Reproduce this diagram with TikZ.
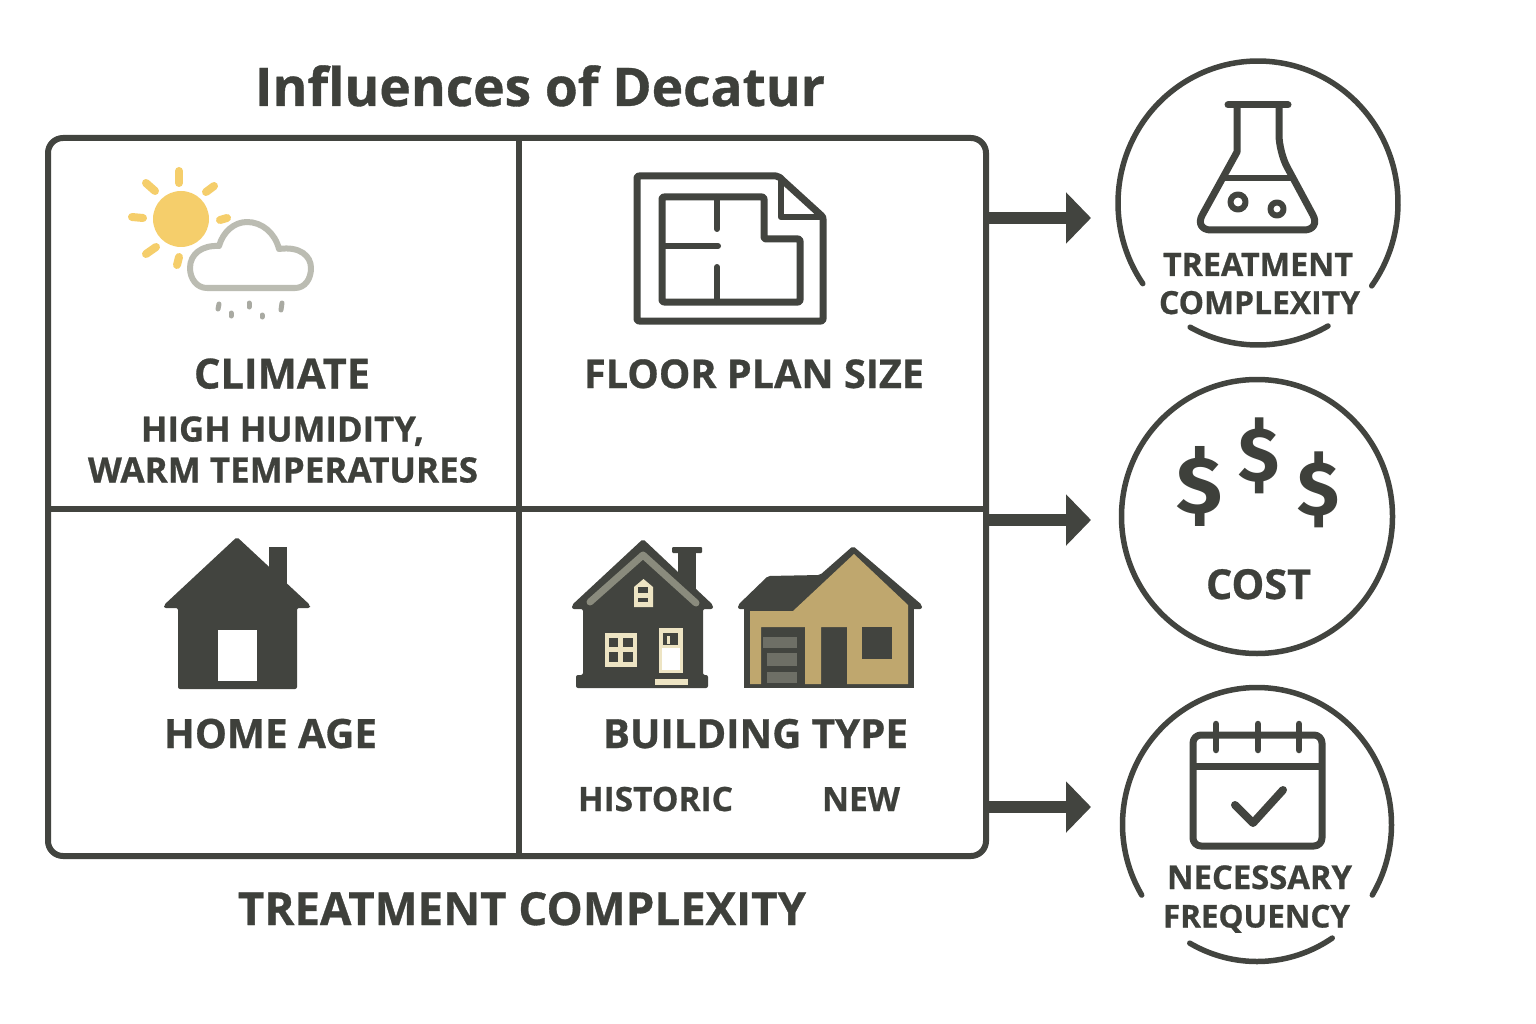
\documentclass[tikz,border=0pt]{standalone}
\usepackage{graphicx}
\usepackage{fontspec}
\setmainfont{Open Sans}[BoldFeatures={FakeBold=0.7}]
\newfontfamily\dollarfont{Fira Sans}
\usetikzlibrary{arrows.meta}
\definecolor{ink}{HTML}{42443F}
\definecolor{txt}{HTML}{3E403B}
\definecolor{sunc}{HTML}{F5CE6B}
\definecolor{cloudc}{HTML}{BBBCB2}
\definecolor{rainc}{HTML}{A9AAA2}
\definecolor{tan}{HTML}{BFA76E}
\definecolor{cream}{HTML}{EDE4C3}
\definecolor{roofg}{HTML}{8A8B7D}
\definecolor{garg}{HTML}{6E6F66}
\tikzset{
  lab/.style={anchor=base,inner sep=0pt,text=txt,font=\bfseries},
  money/.style={anchor=center,inner sep=0pt,text=txt,font=\dollarfont\bfseries},
  line/.style={draw=ink,line width=#1,line join=round,line cap=round},
  line/.default=6pt,
  ray/.style={draw=sunc,line width=8pt,line cap=round},
  drop/.style={draw=rainc,line width=5pt,line cap=round},
  flow/.style={draw=ink,line width=12pt,-{Triangle[length=25pt,width=50pt]}},
}
\newcommand{\lbl}[4]{\node[lab] (#1) at (#2) {\resizebox{#3pt}{!}{#4}};}
\newcommand{\ringarc}[6]{\draw[line=5.5pt] plot[domain=#5:#6,samples=80,smooth] ({#1+#3*cos(\x)},{#2+#4*sin(\x)});}
\begin{document}
\begin{tikzpicture}[x=1pt,y=-1pt]
\useasboundingbox[fill=white] (0,0) rectangle (1536,1024);
% title + grid
\lbl{title}{540,106}{570}{Influences of Decatur}
\node[draw=ink,line width=6pt,rounded corners=15pt,minimum width=938pt,minimum height=718pt,inner sep=0pt] (grid) at (517,497) {};
\coordinate (divt) at (519,138); \coordinate (divb) at (519,856);
\coordinate (divl) at (48,509); \coordinate (divr) at (986,509);
\draw[line=5.5pt,line cap=butt] (divt) -- (divb);
\draw[line=6pt,line cap=butt] (divl) -- (divr);
% sun
\fill[sunc] (181,219) circle[radius=28pt];
\draw[ray] (179,171) -- (179,183);
\draw[ray] (146,183) -- (155,191);
\draw[ray] (214,186) -- (206,192);
\draw[ray] (132,217) -- (143,218);
\draw[ray] (220,220) -- (227,218);
\draw[ray] (146,254) -- (156,247);
\draw[ray] (179,257) -- (177,265);
% cloud
\draw[draw=cloudc,line width=6pt,line join=round] (207,288) -- (295,288) .. controls (305,288) and (311,279) .. (311,268) .. controls (311,256) and (300,246) .. (279,249) .. controls (275,233) and (262,222) .. (247,222) .. controls (234,222) and (223,232) .. (219,246) .. controls (202,245) and (190,254) .. (190,268) .. controls (190,279) and (197,288) .. (207,288) -- cycle;
\draw[drop] (219,304) -- (218,309);
\draw[drop] (231,313) -- (231,316);
\draw[drop] (249,303) -- (249,307);
\draw[drop] (262,315) -- (262,317);
\draw[drop] (282,303) -- (281,310);
% floor plan
\draw[line=7pt,rounded corners=2pt] (637,176) -- (778,176) -- (823,217) -- (823,321) -- (637,321) -- cycle;
\draw[line=6.5pt] (781,178) -- (781,217) -- (823,217);
\draw[line=7pt,rounded corners=2pt] (662,197) -- (764,197) -- (764,239) -- (800,239) -- (800,302) -- (662,302) -- cycle;
\draw[line=6pt] (717,197) -- (717,229);
\draw[line=6pt] (662,246) -- (718,246);
\draw[line=6pt] (717,267) -- (717,302);
% home age
\fill[ink] (269,547) rectangle (287,590);
\fill[ink,rounded corners=2pt] (237,537) -- (310,605) -- (310,608) -- (297,608) -- (297,689) -- (178,689) -- (178,608) -- (164,608) -- (164,605) -- cycle;
\fill[white] (218,630) rectangle (257,681);
% historic house
\fill[ink] (678,550) rectangle (696,600);
\fill[ink,rounded corners=1pt] (672,547) rectangle (702,553);
\fill[ink,rounded corners=2pt] (643,539) -- (713,605) -- (713,609) -- (703,609) -- (703,675) -- (708,675) -- (708,688) -- (576,688) -- (576,675) -- (583,675) -- (583,609) -- (572,609) -- (572,605) -- cycle;
\draw[draw=roofg,line width=7pt,line cap=round,line join=round] (590,602) -- (643,555) -- (696,603);
\fill[cream] (634,587) -- (643.5,579) -- (653,587) -- (653,607) -- (634,607) -- cycle;
\fill[ink] (638,587) rectangle (648,593);
\fill[ink] (638,598) rectangle (648,602);
\fill[cream] (605,633) rectangle (637,667);
\fill[ink] (609,638) rectangle (618,647);
\fill[ink] (623,638) rectangle (633,647);
\fill[ink] (609,652) rectangle (618,662);
\fill[ink] (623,652) rectangle (633,662);
\fill[cream] (659,628) rectangle (683,673);
\fill[ink] (663,633) rectangle (678,645);
\fill[cream] (667,636) rectangle (670,644);
\fill[white] (662,648) rectangle (680,670);
\fill[cream] (655,679) rectangle (688,685);
% new house
\fill[ink] (744,600) rectangle (914,688);
\fill[ink,rounded corners=2pt] (738,605) -- (768,576) -- (820,575) -- (853,546) -- (922,605) -- (922,609) -- (738,609) -- cycle;
\fill[tan] (750,611) -- (793,611) -- (854,554) -- (908,605) -- (908,684) -- (847,684) -- (847,627) -- (821,627) -- (821,684) -- (805,684) -- (805,627) -- (761,627) -- (761,684) -- (750,684) -- cycle;
\fill[ink] (862,627) rectangle (892,659);
\fill[garg] (763,637) rectangle (797,648);
\fill[garg] (767,653) rectangle (797,666);
\fill[garg] (767,672) rectangle (797,683);
% grid labels
\lbl{climate}{282,388.5}{176}{CLIMATE}
\lbl{humid}{282.5,441.5}{283}{HIGH HUMIDITY,}
\lbl{warm}{283,482.5}{390}{WARM TEMPERATURES}
\lbl{floor}{754,388}{340}{FLOOR PLAN SIZE}
\lbl{age}{270.5,748}{213}{HOME AGE}
\lbl{btype}{755.5,748}{305}{BUILDING TYPE}
\lbl{hist}{655.5,811}{155}{HISTORIC}
\lbl{new}{861,811}{78}{NEW}
\lbl{tc}{522,925}{568}{TREATMENT COMPLEXITY}
% arrows
\coordinate (a1s) at (986,218); \coordinate (a1e) at (1091,218);
\coordinate (a2s) at (986,520); \coordinate (a2e) at (1091,520);
\coordinate (a3s) at (986,807); \coordinate (a3e) at (1091,807);
\draw[flow] (a1s) -- (a1e);
\draw[flow] (a2s) -- (a2e);
\draw[flow] (a3s) -- (a3e);
% circle 1
\ringarc{1258}{203}{140}{142}{145.4}{395.7}
\ringarc{1258}{203}{140}{142}{60}{119}
\draw[line=7pt] (1228,105) -- (1288,105);
\draw[line=7pt] (1237,105) -- (1237,152) [rounded corners=17pt] -- (1194,230) -- (1321,230) -- (1279,152) [sharp corners] -- (1279,105);
\draw[line=6.5pt,line cap=butt] (1222,178) -- (1293,178);
\draw[line=6pt] (1238,202) circle[radius=7.5pt];
\draw[line=6pt] (1277,209) circle[radius=6.5pt];
\lbl{t1}{1258,276}{190}{TREATMENT}
\lbl{t2}{1259.5,314}{201}{COMPLEXITY}
% circle 2
\draw[line=5.5pt] (1257,516.5) ellipse[x radius=135.5pt,y radius=137pt];
\node[money] (d1) at (1199,486) {\resizebox*{46pt}{80pt}{\$}};
\node[money] (d2) at (1258.5,456) {\resizebox*{41pt}{76pt}{\$}};
\node[money] (d3) at (1318,490) {\resizebox*{42pt}{76pt}{\$}};
\lbl{cost}{1258.5,599}{105}{COST}
% circle 3
\ringarc{1257}{824.5}{134.5}{137}{149}{391}
\ringarc{1257}{824.5}{134.5}{137}{56}{120}
\draw[line=7pt,rounded corners=8pt] (1193,735) rectangle (1322,846);
\draw[line=7pt,line cap=butt] (1193,766) -- (1322,766);
\draw[line=6.5pt] (1216,724) -- (1216,750);
\draw[line=6.5pt] (1258,724) -- (1258,750);
\draw[line=6.5pt] (1299,724) -- (1299,750);
\draw[line=8pt] (1235,805) -- (1253,823) -- (1283,790);
\lbl{n1}{1259.5,889}{185}{NECESSARY}
\lbl{n2}{1256.5,927.5}{187}{FREQUENCY}
\end{tikzpicture}
\end{document}
